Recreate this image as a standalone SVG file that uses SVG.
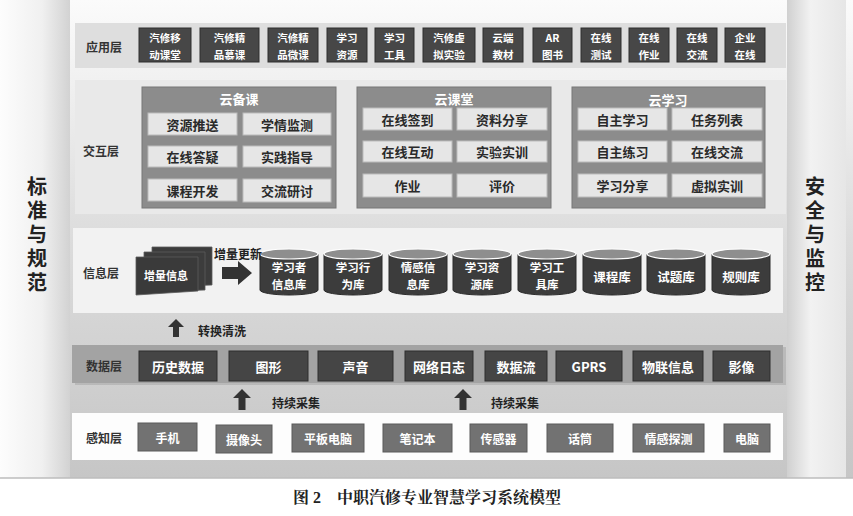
<svg xmlns="http://www.w3.org/2000/svg" width="853" height="516" viewBox="0 0 853 516">
<defs>
<linearGradient id="bg" x1="0" y1="0" x2="0" y2="1">
<stop offset="0" stop-color="#fbfbfb"/>
<stop offset="0.5" stop-color="#dcdcdc"/>
<stop offset="1" stop-color="#c6c6c6"/>
</linearGradient>
<linearGradient id="side" x1="0" y1="0" x2="1" y2="0">
<stop offset="0" stop-color="#fdfdfd"/>
<stop offset="0.6" stop-color="#f0f0f0"/>
<stop offset="1" stop-color="#d2d2d2"/>
</linearGradient>
<linearGradient id="sideR" x1="0" y1="0" x2="1" y2="0">
<stop offset="0" stop-color="#d0d0d0"/>
<stop offset="0.4" stop-color="#f2f2f2"/>
<stop offset="1" stop-color="#e6e6e6"/>
</linearGradient>
</defs>
<style>
text{font-family:"Noto Sans CJK SC","Noto Sans",sans-serif;font-weight:bold;text-anchor:middle;dominant-baseline:central}
.lbl{font-size:12px;fill:#333}
.app{fill:#474747;stroke:#2e2e2e;stroke-width:1}
.appt{font-size:10.5px;fill:#fff}
.grp{fill:#8c8c8c;stroke:#777;stroke-width:1}
.grpt{font-size:13px;fill:#fff}
.in{fill:#e6e6e6;stroke:#bbb;stroke-width:1}
.int{font-size:13px;fill:#2a2a2a}
.cylb{fill:#3c3c3c;stroke:#2a2a2a;stroke-width:1}
.cylt{fill:#8e8e8e;stroke:#fff;stroke-width:1.2}
.cyt{font-size:12.5px;fill:#fff}
.cyt2{font-size:11.5px;fill:#fff}
.dat{fill:#454545;stroke:#2e2e2e;stroke-width:1}
.datt{font-size:13px;fill:#fff}
.per{fill:#727272;stroke:#5a5a5a;stroke-width:1}
.pert{font-size:12px;fill:#fff}
.arr{fill:#333}
.side{font-size:20px;fill:#222;writing-mode:vertical-rl;letter-spacing:4px}
.note{font-size:12px;fill:#222}
</style>
<rect x="0" y="0" width="853" height="516" fill="#fff"/>
<rect x="0" y="0" width="853" height="478" fill="url(#bg)"/>
<rect x="0" y="0" width="70" height="478" fill="url(#side)"/>
<rect x="787" y="0" width="59" height="478" fill="url(#sideR)"/>
<line x1="0" y1="478" x2="853" y2="478" stroke="#bdbdbd" stroke-width="1.5"/>

<g id="std">
<text class="side" x="37" y="236">标准与规范</text>
</g>
<g id="sec">
<text class="side" x="815" y="236">安全与监控</text>
</g>

<!-- application layer -->
<g id="app-layer">
<rect x="75" y="23" width="711" height="45" fill="#dedede"/>
<text class="lbl" x="104" y="46">应用层</text>
<rect class="app" x="139" y="28" width="52" height="34"/><text class="appt" x="165" y="37.500">汽修移<tspan x="165" dy="16">动课堂</tspan></text>
<rect class="app" x="200" y="28" width="59" height="34"/><text class="appt" x="229.500" y="37.500">汽修精<tspan x="229.500" dy="16">品慕课</tspan></text>
<rect class="app" x="268" y="28" width="50" height="34"/><text class="appt" x="293" y="37.500">汽修精<tspan x="293" dy="16">品微课</tspan></text>
<rect class="app" x="327" y="28" width="40" height="34"/><text class="appt" x="347" y="37.500">学习<tspan x="347" dy="16">资源</tspan></text>
<rect class="app" x="375" y="28" width="39" height="34"/><text class="appt" x="394.500" y="37.500">学习<tspan x="394.500" dy="16">工具</tspan></text>
<rect class="app" x="423" y="28" width="52" height="34"/><text class="appt" x="449" y="37.500">汽修虚<tspan x="449" dy="16">拟实验</tspan></text>
<rect class="app" x="483" y="28" width="40" height="34"/><text class="appt" x="503" y="37.500">云端<tspan x="503" dy="16">教材</tspan></text>
<rect class="app" x="533" y="28" width="39" height="34"/><text class="appt" x="552.500" y="37.500">AR<tspan x="552.500" dy="16">图书</tspan></text>
<rect class="app" x="581" y="28" width="40" height="34"/><text class="appt" x="601" y="37.500">在线<tspan x="601" dy="16">测试</tspan></text>
<rect class="app" x="629" y="28" width="40" height="34"/><text class="appt" x="649" y="37.500">在线<tspan x="649" dy="16">作业</tspan></text>
<rect class="app" x="677" y="28" width="40" height="34"/><text class="appt" x="697" y="37.500">在线<tspan x="697" dy="16">交流</tspan></text>
<rect class="app" x="725" y="28" width="40" height="34"/><text class="appt" x="745" y="37.500">企业<tspan x="745" dy="16">在线</tspan></text>
</g>

<!-- interaction layer -->
<g id="interact-layer">
<rect x="75" y="80" width="711" height="134" fill="#e9e9e9"/>
<text class="lbl" x="101" y="150">交互层</text>
</g>
<g id="cloud-prep">
<rect class="grp" x="142" y="87" width="194" height="121"/>
<text class="grpt" x="239" y="98">云备课</text>
<rect class="in" x="148" y="113" width="89" height="22"/><text class="int" x="192.500" y="124">资源推送</text>
<rect class="in" x="243" y="113" width="88" height="22"/><text class="int" x="287" y="124">学情监测</text>
<rect class="in" x="148" y="146" width="89" height="21"/><text class="int" x="192.500" y="156.500">在线答疑</text>
<rect class="in" x="243" y="146" width="88" height="21"/><text class="int" x="287" y="156.500">实践指导</text>
<rect class="in" x="148" y="179" width="89" height="22"/><text class="int" x="192.500" y="190">课程开发</text>
<rect class="in" x="243" y="179" width="88" height="23"/><text class="int" x="287" y="190.500">交流研讨</text>
</g>
<g id="cloud-class">
<rect class="grp" x="357" y="87" width="194" height="121"/>
<text class="grpt" x="454" y="98">云课堂</text>
<rect class="in" x="363" y="108" width="89" height="22"/><text class="int" x="407.500" y="119">在线签到</text>
<rect class="in" x="457" y="108" width="90" height="22"/><text class="int" x="502" y="119">资料分享</text>
<rect class="in" x="363" y="141" width="89" height="21"/><text class="int" x="407.500" y="151.500">在线互动</text>
<rect class="in" x="457" y="141" width="90" height="21"/><text class="int" x="502" y="151.500">实验实训</text>
<rect class="in" x="363" y="174" width="89" height="23"/><text class="int" x="407.500" y="185.500">作业</text>
<rect class="in" x="457" y="174" width="90" height="23"/><text class="int" x="502" y="185.500">评价</text>
</g>
<g id="cloud-learn">
<rect class="grp" x="572" y="87" width="193" height="121"/>
<text class="grpt" x="668" y="99">云学习</text>
<rect class="in" x="578" y="108" width="89" height="22"/><text class="int" x="622.500" y="119">自主学习</text>
<rect class="in" x="672" y="108" width="90" height="22"/><text class="int" x="717" y="119">任务列表</text>
<rect class="in" x="578" y="141" width="89" height="21"/><text class="int" x="622.500" y="151.500">自主练习</text>
<rect class="in" x="672" y="141" width="90" height="21"/><text class="int" x="717" y="151.500">在线交流</text>
<rect class="in" x="578" y="174" width="89" height="23"/><text class="int" x="622.500" y="185.500">学习分享</text>
<rect class="in" x="672" y="174" width="90" height="23"/><text class="int" x="717" y="185.500">虚拟实训</text>
</g>

<!-- information layer -->
<g id="info-layer">
<rect x="73" y="228" width="710" height="85" fill="#f2f2f2"/>
<text class="lbl" x="101" y="272">信息层</text>
</g>
<g id="incr-info">
<path d="M152 247 H212 V285 L152 287 Z" fill="#3c3c3c" stroke="#5a5a5a" stroke-width="0.8"/>
<path d="M144 252 H205 V290 L144 292 Z" fill="#3c3c3c" stroke="#5a5a5a" stroke-width="0.8"/>
<path d="M136 257 H198 V291 L136 295 Z" fill="#3a3a3a" stroke="#5a5a5a" stroke-width="0.8"/>
<text x="166" y="275" style="font-size:11px;fill:#fff">增量信息</text>
</g>
<g id="db">
<g id="db1"><path class="cylb" d="M260 254 V290 A29 5 0 0 0 318 290 V254 Z"/><ellipse class="cylt" cx="289" cy="254" rx="29" ry="5"/><text class="cyt2" x="289" y="267">学习者<tspan x="289" dy="17">信息库</tspan></text></g>
<g id="db2"><path class="cylb" d="M324 254 V290 A29 5 0 0 0 382 290 V254 Z"/><ellipse class="cylt" cx="353" cy="254" rx="29" ry="5"/><text class="cyt2" x="353" y="267">学习行<tspan x="353" dy="17">为库</tspan></text></g>
<g id="db3"><path class="cylb" d="M389 254 V290 A29 5 0 0 0 447 290 V254 Z"/><ellipse class="cylt" cx="418" cy="254" rx="29" ry="5"/><text class="cyt2" x="418" y="267">情感信<tspan x="418" dy="17">息库</tspan></text></g>
<g id="db4"><path class="cylb" d="M453 254 V290 A29 5 0 0 0 511 290 V254 Z"/><ellipse class="cylt" cx="482" cy="254" rx="29" ry="5"/><text class="cyt2" x="482" y="267">学习资<tspan x="482" dy="17">源库</tspan></text></g>
<g id="db5"><path class="cylb" d="M518 254 V290 A29 5 0 0 0 576 290 V254 Z"/><ellipse class="cylt" cx="547" cy="254" rx="29" ry="5"/><text class="cyt2" x="547" y="267">学习工<tspan x="547" dy="17">具库</tspan></text></g>
<g id="db6"><path class="cylb" d="M583 254 V290 A29 5 0 0 0 641 290 V254 Z"/><ellipse class="cylt" cx="612" cy="254" rx="29" ry="5"/><text class="cyt" x="612" y="276">课程库</text></g>
<g id="db7"><path class="cylb" d="M647 254 V290 A29 5 0 0 0 705 290 V254 Z"/><ellipse class="cylt" cx="676" cy="254" rx="29" ry="5"/><text class="cyt" x="676" y="276">试题库</text></g>
<g id="db8"><path class="cylb" d="M712 254 V290 A29 5 0 0 0 770 290 V254 Z"/><ellipse class="cylt" cx="741" cy="254" rx="29" ry="5"/><text class="cyt" x="741" y="276">规则库</text></g>
</g>

<!-- data layer -->
<g id="data-layer">
<rect x="75" y="347" width="711" height="38" fill="#8f8f8f" opacity="0.35"/>
<rect x="72" y="345" width="711" height="38" fill="#a3a3a3"/>
<text class="lbl" x="104" y="365">数据层</text>
<rect class="dat" x="139" y="351" width="78" height="30"/><text class="datt" x="178" y="366">历史数据</text>
<rect class="dat" x="229" y="351" width="79" height="30"/><text class="datt" x="268.500" y="366">图形</text>
<rect class="dat" x="318" y="351" width="75" height="30"/><text class="datt" x="355.500" y="366">声音</text>
<rect class="dat" x="405" y="351" width="68" height="30"/><text class="datt" x="439" y="366">网络日志</text>
<rect class="dat" x="485" y="351" width="62" height="30"/><text class="datt" x="516" y="366">数据流</text>
<rect class="dat" x="556" y="351" width="66" height="30"/><text class="datt" x="589" y="366">GPRS</text>
<rect class="dat" x="633" y="351" width="70" height="30"/><text class="datt" x="668" y="366">物联信息</text>
<rect class="dat" x="713" y="351" width="57" height="30"/><text class="datt" x="741.500" y="366">影像</text>
</g>

<!-- perception layer -->
<g id="sense-layer">
<rect x="72" y="413" width="711" height="47" fill="#fdfdfd"/>
<text class="lbl" x="104" y="437">感知层</text>
<rect class="per" x="138" y="423" width="59" height="28" fill="#606060"/><text class="pert" x="167.500" y="437">手机</text>
<rect class="per" x="216" y="425" width="56" height="28"/><text class="pert" x="244" y="439">摄像头</text>
<rect class="per" x="292" y="424" width="72" height="28"/><text class="pert" x="328" y="438">平板电脑</text>
<rect class="per" x="383" y="424" width="69" height="28"/><text class="pert" x="417.500" y="438">笔记本</text>
<rect class="per" x="470" y="424" width="57" height="28"/><text class="pert" x="498.500" y="438">传感器</text>
<rect class="per" x="547" y="424" width="66" height="28"/><text class="pert" x="580" y="438">话筒</text>
<rect class="per" x="633" y="424" width="71" height="28"/><text class="pert" x="668.500" y="438">情感探测</text>
<rect class="per" x="724" y="424" width="46" height="28"/><text class="pert" x="747" y="438">电脑</text>
</g>

<!-- connectors -->
<g id="connectors">
<path class="arr" d="M222 267 H238 V261 L252 273 L238 285 V279 H222 Z"/>
<text class="note" x="238" y="253">增量更新</text>
<path class="arr" d="M176 319 L184 327 H179 V337 H173 V327 H168 Z"/>
<text class="note" x="222" y="330">转换清洗</text>
<path class="arr" d="M242 389 L251 398 H245.500 V410 H238.500 V398 H233 Z"/>
<text class="note" x="296" y="402">持续采集</text>
<path class="arr" d="M463 389 L472 398 H466.500 V410 H459.500 V398 H454 Z"/>
<text class="note" x="515" y="402">持续采集</text>
</g>

<text x="427" y="497" style="font-family:'Liberation Serif','Noto Serif CJK SC','Noto Sans CJK SC',serif;font-size:16px;fill:#222;font-weight:bold">图 2　中职汽修专业智慧学习系统模型</text>
</svg>
